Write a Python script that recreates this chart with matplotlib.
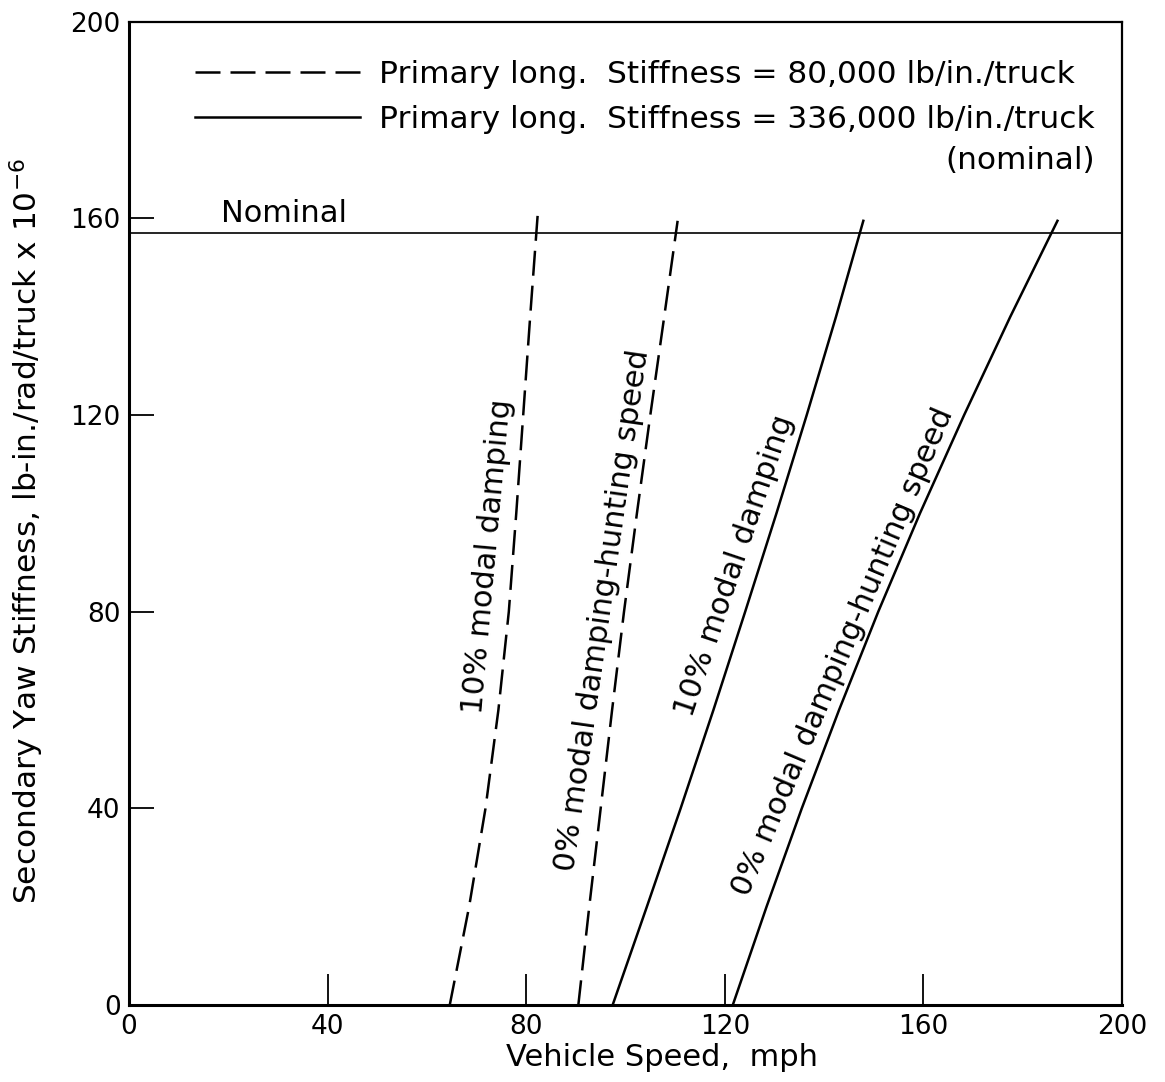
import numpy as np
import matplotlib.pyplot as plt

# --- дані ---
# лінії 80,000 lb/in./truck (штрихові)
yaw_soft_10 = [0, 20, 40, 60, 80, 100, 120, 140, 160.5]
speed_soft_10 = [64.6, 68.5, 71.8, 74.4, 76.5, 78.0, 79.4, 80.8, 82.3]
yaw_soft_0 = [0, 20, 40, 60, 80, 100, 120, 140, 159.5]
speed_soft_0 = [90.5, 92.7, 95.0, 97.3, 99.7, 102.3, 105.0, 107.8, 110.5]

# лінії 336,000 lb/in./truck (суцільні)
yaw_nom_10 = [0, 20, 40, 60, 80, 100, 120, 140, 159.5]
speed_nom_10 = [97.4, 104.3, 111.1, 117.7, 124.1, 130.4, 136.5, 142.4, 147.9]
yaw_nom_0 = [0, 20, 40, 60, 80, 100, 120, 140, 159.5]
speed_nom_0 = [121.6, 128.4, 135.5, 143.0, 150.9, 159.3, 168.2, 177.5, 187.0]

nominal_yaw = 157
x_ticks = [0, 40, 80, 120, 160, 200]
y_ticks = [0, 40, 80, 120, 160, 200]

legend_labels = ["Primary long.  Stiffness = 80,000 lb/in./truck",
                 "Primary long.  Stiffness = 336,000 lb/in./truck"]

# підписи кривих: (текст, x, y, кут)
curve_labels = [
    ("10% modal damping", 72.3, 91.2, 84.8),
    ("0% modal damping-hunting speed", 95.4, 80.2, 81.9),
    ("10% modal damping", 122.0, 89.4, 71.4),
    ("0% modal damping-hunting speed", 143.8, 71.8, 67.1),
]

dash = (0, (10, 4))
lw = 1.8

fig = plt.figure(figsize=(11.65, 10.82), dpi=100)
ax = fig.add_axes([0.1107, 0.071, 0.8524, 0.909])

l1, = ax.plot(speed_soft_10, yaw_soft_10, color='black', lw=lw, linestyle=dash)
ax.plot(speed_soft_0, yaw_soft_0, color='black', lw=lw, linestyle=dash)
l2, = ax.plot(speed_nom_10, yaw_nom_10, color='black', lw=lw)
ax.plot(speed_nom_0, yaw_nom_0, color='black', lw=lw)

ax.axhline(nominal_yaw, color='black', lw=1.2)
ax.text(18.6, nominal_yaw + 1.0, "Nominal", fontsize=22, ha='left', va='bottom')

for txt, x, y, ang in curve_labels:
    ax.text(x, y, txt, fontsize=22, rotation=ang, rotation_mode='anchor',
            ha='center', va='center')

leg = ax.legend([l1, l2], legend_labels, loc='upper left',
                bbox_to_anchor=(0.066, 0.961), frameon=False, fontsize=22.5,
                handlelength=5.3, handletextpad=0.6, labelspacing=0.5,
                borderpad=0.0, borderaxespad=0.0)
ax.annotate("(nominal)", xy=(1, 0), xycoords=leg.get_texts()[1],
            xytext=(0, -9), textcoords='offset points', ha='right', va='top',
            fontsize=22.5, zorder=10, annotation_clip=False)

ax.set_xlim(0, 200)
ax.set_ylim(0, 200)
ax.set_xticks(x_ticks)
ax.set_yticks(y_ticks)
ax.tick_params(axis='x', direction='in', length=22, width=1.3, labelsize=19, pad=6)
ax.tick_params(axis='y', direction='in', length=18, width=1.3, labelsize=19, pad=6)
for side in ['left', 'bottom']:
    ax.spines[side].set_linewidth(2.2)
for side in ['top', 'right']:
    ax.spines[side].set_linewidth(1.6)

ax.set_xlabel("Vehicle Speed,  mph", fontsize=22)
ax.xaxis.set_label_coords(0.537, -0.038)
ax.set_ylabel("Secondary Yaw Stiffness, lb-in./rad/truck x 10$^{-6}$", fontsize=22.5)
ax.yaxis.set_label_coords(-0.084, 0.482)

fig.savefig("out.png", dpi=100)
